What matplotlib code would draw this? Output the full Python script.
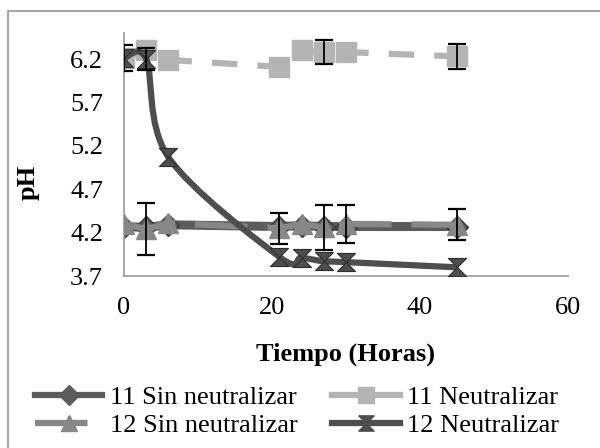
import matplotlib
matplotlib.use("Agg")
import matplotlib.pyplot as plt
import numpy as np
from matplotlib.lines import Line2D
from matplotlib.path import Path
from matplotlib.patches import PathPatch, Rectangle

# ---- data ----
hours = [0, 3, 6, 21, 24, 27, 30, 45]
sin11 = [4.27, 4.26, 4.29, 4.27, 4.28, 4.27, 4.27, 4.27]
neu11 = [6.21, 6.30, 6.19, 6.11, 6.30, 6.28, 6.28, 6.23]
sin12 = [4.30, 4.24, 4.31, 4.25, 4.30, 4.26, 4.30, 4.29]
neu12 = [6.21, 6.20, 5.07, 3.92, 3.91, 3.87, 3.86, 3.80]
err_neu11 = [0.15, 0.0, 0.0, 0.0, 0.0, 0.14, 0.0, 0.14]
err_sin12 = [0.0, 0.30, 0.0, 0.18, 0.0, 0.26, 0.22, 0.18]
err_neu12 = [0.0, 0.13, 0.0, 0.0, 0.0, 0.0, 0.0, 0.0]
labels = ["11 Sin neutralizar", "11 Neutralizar", "12 Sin neutralizar", "12 Neutralizar"]
xticks = [0, 20, 40, 60]
yticks = [3.7, 4.2, 4.7, 5.2, 5.7, 6.2]

plt.rcParams['font.family'] = ['Liberation Serif', 'DejaVu Serif']

W, H = 600, 448
fig = plt.figure(figsize=(6, 4.48), dpi=100)
fig.patch.set_facecolor('white')
# chart border (cropped at right/bottom)
fig.patches.append(Rectangle((8 / W, -0.1), 1.2, 1 - 11 / H + 0.1, transform=fig.transFigure,
                             fill=False, edgecolor='#a6a6a6', lw=1.5))

left, right, top, bottom = 124, 568, 33, 276
ax = fig.add_axes([left / W, 1 - bottom / H, (right - left) / W, (bottom - top) / H])

c_sin11 = '#5c5c5c'
c_neu11 = '#b4b4b4'
c_sin12 = '#878787'
c_neu12 = '#4e4e4e'
hourglass = [(-1, 1), (1, 1), (-1, -1), (1, -1), (-1, 1)]

lw = 4.5
ms = 14

# 11 Sin neutralizar
ax.plot(hours, sin11, color=c_sin11, lw=6.5, marker='D', ms=11, mfc=c_sin11,
        mec='#3a3a3a', zorder=2, solid_capstyle='butt')
# 11 Neutralizar
ax.plot(hours, neu11, color=c_neu11, lw=lw, dashes=(4.1, 3.2), marker='s', ms=ms,
        mfc=c_neu11, mec=c_neu11, zorder=3)
# 12 Sin neutralizar
ax.plot(hours, sin12, color=c_sin12, lw=lw, dashes=(8.4, 3.2), marker='^', ms=ms,
        mfc=c_sin12, mec=c_sin12, zorder=4)

# 12 Neutralizar: smoothed line (Bezier through data points, like Excel)
pts = np.column_stack([hours, neu12]).astype(float)
n = len(pts)
verts = [tuple(pts[0])]
codes = [Path.MOVETO]
for i in range(n - 1):
    p0 = pts[i - 1] if i > 0 else pts[i]
    p1 = pts[i]
    p2 = pts[i + 1]
    p3 = pts[i + 2] if i + 2 < n else pts[i + 1]
    c1 = p1 + (p2 - p0) / 6.0
    c2 = p2 - (p3 - p1) / 6.0
    verts += [tuple(c1), tuple(c2), tuple(p2)]
    codes += [Path.CURVE4] * 3
ax.add_patch(PathPatch(Path(verts, codes), fill=False, edgecolor=c_neu12, lw=lw, zorder=5))
ax.plot(hours, neu12, ls='none', marker=hourglass, ms=13, mfc=c_neu12, mec='#2e2e2e',
        mew=0.8, zorder=6)

# error bars (only where an error is shown)
ekw = dict(fmt='none', ecolor='black', elinewidth=1.3, capsize=6.5, capthick=1.6, zorder=7)
for ys, es in [(neu11, err_neu11), (sin12, err_sin12), (neu12, err_neu12)]:
    x_a, y_a, e_a = np.array(hours), np.array(ys), np.array(es)
    m = e_a > 0
    ax.errorbar(x_a[m], y_a[m], yerr=e_a[m], **ekw)

ax.set_xlim(0, 60)
ax.set_ylim(3.7, 6.5)
ax.set_xticks(xticks)
ax.set_yticks(yticks)
ax.set_yticklabels([f"{v:.1f}" for v in yticks])
ax.tick_params(length=0, labelsize=19, pad=15, colors='black')
for s in ['top', 'right']:
    ax.spines[s].set_visible(False)
for s in ['left', 'bottom']:
    ax.spines[s].set_color('#a0a0a0')
    ax.spines[s].set_linewidth(1.3)
ax.set_facecolor('none')

ax.set_xlabel('Tiempo (Horas)', fontsize=19, fontweight='bold')
ax.xaxis.set_label_coords(0.5, -0.275)
ax.set_ylabel('pH', fontsize=19, fontweight='bold')
ax.yaxis.set_label_coords(-0.189, 0.384)

handles = [
    Line2D([], [], color=c_sin11, lw=lw, marker='D', ms=10, mfc=c_sin11, mec=c_sin11),
    Line2D([], [], color=c_sin12, lw=lw, dashes=(8.4, 3.2), marker='^', ms=12, mfc=c_sin12, mec=c_sin12),
    Line2D([], [], color=c_neu11, lw=lw, marker='s', ms=12, mfc=c_neu11, mec=c_neu11),
    Line2D([], [], color=c_neu12, lw=lw, marker=hourglass, ms=11, mfc=c_neu12, mec=c_neu12),
]
leg_labels = [labels[0], labels[2], labels[1], labels[3]]
fig.legend(handles, leg_labels, loc='upper left', bbox_to_anchor=(35 / W, 1 - 386 / H),
           ncol=2, frameon=False, fontsize=19, handlelength=2.55, handletextpad=0.3,
           columnspacing=1.3, labelspacing=0.16, borderpad=0, borderaxespad=0)

fig.savefig('out.png', dpi=100)
